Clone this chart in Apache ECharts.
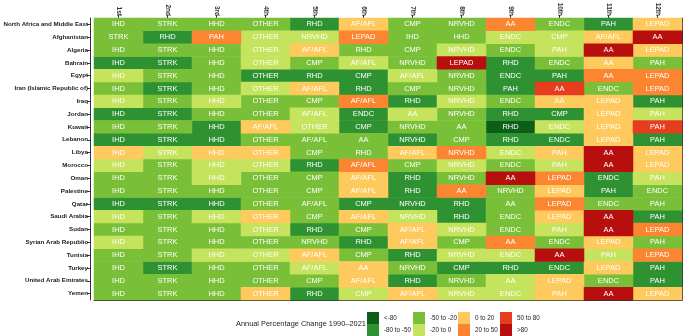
<!DOCTYPE html>
<html>
<head>
<meta charset="utf-8">
<script src="https://cdn.jsdelivr.net/npm/echarts@6/dist/echarts.min.js"></script>
<style>
  html, body { margin: 0; padding: 0; background: #fff; }
  #chart { width: 685px; height: 336px; }
</style>
</head>
<body>
<div id="chart"></div>
<script>
const columns = ['1st', '2nd', '3rd', '4th', '5th', '6th', '7th', '8th', '9th', '10th', '11th', '12th']

const regions = [
  'North Africa and Middle East', 'Afghanistan', 'Algeria', 'Bahrain', 'Egypt',
  'Iran (Islamic Republic of)', 'Iraq', 'Jordan', 'Kuwait', 'Lebanon', 'Libya',
  'Morocco', 'Oman', 'Palestine', 'Qatar', 'Saudi Arabia', 'Sudan',
  'Syrian Arab Republic', 'Tunisia', 'Turkey', 'United Arab Emirates', 'Yemen',
]

const bins = ['<-80', '-80 to -50', '-50 to -20', '-20 to 0', '0 to 20', '20 to 50', '50 to 80', '>80']

// cause ranked in each position, per region
const causes = [
  ['IHD', 'STRK', 'HHD', 'OTHER', 'RHD', 'AF/AFL', 'CMP', 'NRVHD', 'AA', 'ENDC', 'PAH', 'LEPAD'],
  ['STRK', 'RHD', 'PAH', 'OTHER', 'NRVHD', 'LEPAD', 'IHD', 'HHD', 'ENDC', 'CMP', 'AF/AFL', 'AA'],
  ['IHD', 'STRK', 'HHD', 'OTHER', 'AF/AFL', 'RHD', 'CMP', 'NRVHD', 'ENDC', 'PAH', 'AA', 'LEPAD'],
  ['IHD', 'STRK', 'HHD', 'OTHER', 'CMP', 'AF/AFL', 'NRVHD', 'LEPAD', 'RHD', 'ENDC', 'AA', 'PAH'],
  ['IHD', 'STRK', 'HHD', 'OTHER', 'RHD', 'CMP', 'AF/AFL', 'NRVHD', 'ENDC', 'PAH', 'AA', 'LEPAD'],
  ['IHD', 'STRK', 'HHD', 'OTHER', 'AF/AFL', 'RHD', 'CMP', 'NRVHD', 'PAH', 'AA', 'ENDC', 'LEPAD'],
  ['IHD', 'STRK', 'HHD', 'OTHER', 'CMP', 'AF/AFL', 'RHD', 'NRVHD', 'ENDC', 'AA', 'LEPAD', 'PAH'],
  ['IHD', 'STRK', 'HHD', 'OTHER', 'AF/AFL', 'ENDC', 'AA', 'NRVHD', 'RHD', 'CMP', 'LEPAD', 'PAH'],
  ['IHD', 'STRK', 'HHD', 'AF/AFL', 'OTHER', 'CMP', 'NRVHD', 'AA', 'RHD', 'ENDC', 'LEPAD', 'PAH'],
  ['IHD', 'STRK', 'HHD', 'OTHER', 'AF/AFL', 'AA', 'NRVHD', 'CMP', 'RHD', 'ENDC', 'LEPAD', 'PAH'],
  ['IHD', 'STRK', 'HHD', 'OTHER', 'CMP', 'RHD', 'AF/AFL', 'NRVHD', 'ENDC', 'PAH', 'AA', 'LEPAD'],
  ['IHD', 'STRK', 'HHD', 'OTHER', 'RHD', 'AF/AFL', 'CMP', 'NRVHD', 'ENDC', 'PAH', 'AA', 'LEPAD'],
  ['IHD', 'STRK', 'HHD', 'OTHER', 'CMP', 'AF/AFL', 'RHD', 'NRVHD', 'AA', 'LEPAD', 'ENDC', 'PAH'],
  ['IHD', 'STRK', 'HHD', 'OTHER', 'CMP', 'AF/AFL', 'RHD', 'AA', 'NRVHD', 'LEPAD', 'PAH', 'ENDC'],
  ['IHD', 'STRK', 'HHD', 'OTHER', 'AF/AFL', 'CMP', 'NRVHD', 'RHD', 'AA', 'LEPAD', 'ENDC', 'PAH'],
  ['IHD', 'STRK', 'HHD', 'OTHER', 'CMP', 'AF/AFL', 'NRVHD', 'RHD', 'ENDC', 'LEPAD', 'AA', 'PAH'],
  ['IHD', 'STRK', 'HHD', 'OTHER', 'RHD', 'CMP', 'AF/AFL', 'NRVHD', 'ENDC', 'PAH', 'AA', 'LEPAD'],
  ['IHD', 'STRK', 'HHD', 'OTHER', 'NRVHD', 'RHD', 'AF/AFL', 'CMP', 'AA', 'ENDC', 'LEPAD', 'PAH'],
  ['IHD', 'STRK', 'HHD', 'OTHER', 'AF/AFL', 'CMP', 'RHD', 'NRVHD', 'ENDC', 'AA', 'PAH', 'LEPAD'],
  ['IHD', 'STRK', 'HHD', 'OTHER', 'AF/AFL', 'AA', 'NRVHD', 'CMP', 'RHD', 'ENDC', 'LEPAD', 'PAH'],
  ['IHD', 'STRK', 'HHD', 'OTHER', 'CMP', 'AF/AFL', 'RHD', 'NRVHD', 'AA', 'LEPAD', 'ENDC', 'PAH'],
  ['IHD', 'STRK', 'HHD', 'OTHER', 'RHD', 'CMP', 'AF/AFL', 'NRVHD', 'ENDC', 'PAH', 'AA', 'LEPAD'],
]

// index into bins for each cell
const change = [
  [2, 2, 2, 2, 1, 4, 2, 2, 5, 2, 1, 4],
  [2, 1, 5, 3, 3, 5, 2, 2, 3, 3, 4, 7],
  [2, 2, 2, 3, 4, 2, 2, 3, 2, 3, 7, 4],
  [1, 1, 2, 3, 2, 3, 2, 7, 1, 2, 4, 2],
  [3, 2, 2, 1, 1, 1, 3, 2, 1, 1, 5, 5],
  [2, 1, 2, 3, 4, 1, 2, 2, 1, 6, 2, 5],
  [3, 2, 3, 2, 2, 5, 1, 3, 2, 4, 4, 1],
  [1, 1, 2, 2, 3, 1, 3, 2, 1, 1, 4, 3],
  [2, 2, 1, 4, 3, 1, 2, 2, 0, 3, 4, 6],
  [1, 1, 1, 2, 2, 2, 1, 2, 1, 1, 4, 1],
  [4, 3, 4, 4, 2, 2, 4, 5, 3, 4, 7, 4],
  [3, 2, 3, 3, 1, 5, 2, 3, 2, 3, 7, 4],
  [2, 2, 3, 2, 2, 4, 1, 2, 7, 5, 1, 3],
  [2, 2, 2, 2, 2, 4, 1, 5, 2, 4, 1, 2],
  [1, 1, 1, 2, 2, 1, 1, 1, 2, 5, 2, 2],
  [3, 2, 3, 4, 2, 4, 3, 1, 2, 4, 7, 1],
  [2, 2, 2, 3, 1, 2, 4, 3, 2, 3, 7, 5],
  [3, 2, 2, 2, 2, 1, 4, 2, 5, 2, 4, 2],
  [2, 2, 3, 3, 4, 2, 1, 3, 3, 7, 3, 5],
  [2, 1, 2, 2, 3, 4, 2, 1, 1, 1, 4, 1],
  [2, 2, 2, 2, 2, 4, 1, 2, 3, 4, 2, 1],
  [2, 2, 2, 4, 1, 3, 4, 3, 3, 4, 7, 4],
]

const palette = ['#0d5f17', '#2f9232', '#7abf38', '#c5e35c', '#fec95d', '#fb8531', '#e63d1f', '#b70e0e']
const legendLeft = [367, 413, 458, 500]
const font = "'Liberation Sans', Arial, sans-serif"

const chart = echarts.init(document.getElementById('chart'), null, { renderer: 'canvas' })

const series = bins.map((name, k) => {
  const data = []
  change.forEach((row, r) => row.forEach((v, c) => { if (v === k) data.push([c, r, k]) }))
  return {
    type: 'heatmap',
    name,
    data,
    xAxisIndex: 0,
    yAxisIndex: 0,
    itemStyle: { color: palette[k] },
    label: {
      show: true,
      color: '#fff',
      fontSize: 7.5,
      fontFamily: font,
      formatter: p => causes[p.value[1]][p.value[0]],
    },
    emphasis: { disabled: true },
  }
})

chart.setOption({
  animation: false,
  textStyle: { fontFamily: font },
  grid: { left: 94, right: 3, top: 18, bottom: 36, containLabel: false, outerBoundsMode: 'none' },
  title: {
    text: 'Annual Percentage Change 1990\u20132021',
    left: 236,
    top: 320,
    padding: 0,
    textStyle: { fontSize: 7.4, fontWeight: 'normal', color: '#222', fontFamily: font },
  },
  legend: legendLeft.map((x, i) => ({
    orient: 'vertical',
    left: x,
    top: 312,
    padding: 0,
    itemWidth: 12,
    itemHeight: 12,
    itemGap: 0,
    icon: 'rect',
    selectedMode: false,
    data: [bins[2 * i], bins[2 * i + 1]],
    textStyle: { fontSize: 6.3, color: '#222', fontFamily: font },
  })),
  xAxis: [
    {
      type: 'category',
      data: columns,
      position: 'top',
      axisLine: { show: false },
      axisTick: { show: true, length: 3, alignWithLabel: true, lineStyle: { color: '#333' } },
      axisLabel: { rotate: 90, fontSize: 6.5, fontWeight: 'bold', color: '#333', margin: 2 },
      splitLine: { show: false },
    },
    {
      type: 'category',
      data: columns,
      position: 'bottom',
      axisLine: { show: true, lineStyle: { color: '#333', width: 1 } },
      axisTick: { show: false },
      axisLabel: { show: false },
    },
  ],
  yAxis: [
    {
      type: 'category',
      data: regions,
      inverse: true,
      position: 'left',
      offset: 4,
      axisLine: { show: true, lineStyle: { color: '#333', width: 1 } },
      axisTick: { show: true, length: 3, alignWithLabel: true, lineStyle: { color: '#333' } },
      axisLabel: { fontSize: 6.2, fontWeight: 'bold', color: '#222', margin: 2 },
    },
    {
      type: 'category',
      data: regions,
      inverse: true,
      position: 'right',
      axisLine: { show: true, lineStyle: { color: '#333', width: 1 } },
      axisTick: { show: false },
      axisLabel: { show: false },
    },
  ],
  series,
})
</script>
</body>
</html>
